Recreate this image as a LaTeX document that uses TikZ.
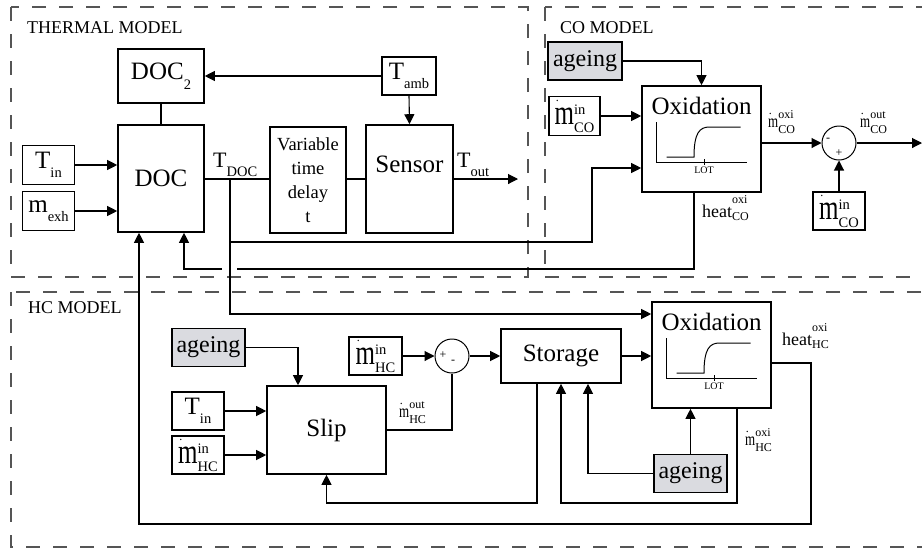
\documentclass[tikz,border=0pt]{standalone}
\usepackage{fontspec}
\setmainfont{Liberation Serif}
\usepackage{graphicx}
\usetikzlibrary{arrows.meta,calc}
\definecolor{agegray}{RGB}{218,219,224}
\definecolor{framegray}{RGB}{85,85,85}
\newcommand{\fsz}[1]{\fontsize{#1}{#1}\selectfont}
\newcommand{\lowsub}[1]{\raisebox{-9.5pt}{\fsz{14.5}#1}}
\newcommand{\mflow}{\rlap{\hspace{0.05em}\raisebox{0.95em}{\fsz{12}.}}\scalebox{1}[1.4]{m}}
\newcommand{\bigss}[2]{{\fsz{14.5}\rlap{\raisebox{0.7em}{#1}}\raisebox{-0.5em}{#2}}}
\newcommand{\smallss}[2]{{\fsz{12}\rlap{\raisebox{0.75em}{#1}}\raisebox{-0.5em}{#2}}}
\newcommand{\heatss}[2]{{\fsz{12}\rlap{\raisebox{1.1em}{#1}}\raisebox{-0.25em}{#2}}}
% small LOT characteristic inside an oxidation block
\newcommand{\lotplot}[1]{%
  \begin{scope}[shift={(#1.center)},line width=1pt]
    \draw (-45,-17) -- (-45,23) -- (45,23);
    \draw (-35,18) -- (-7.5,18) .. controls (-7.5,-6) and (-2,-12) .. (8,-12) -- (39,-12);
    \draw (2.5,20) -- (2.5,26);
    \node[font=\fsz{10},inner sep=0pt] (#1lot) at (2.5,31) {LOT};
  \end{scope}}

\begin{document}
\begin{tikzpicture}[x=1pt,y=-1pt,>={Triangle[length=10pt,width=10pt]},
    blk/.style={draw,line width=1.6pt,inner sep=0pt,font=\fsz{25}},
    agebox/.style={blk,fill=agegray,font=\fsz{24}},
    sumnode/.style={draw,circle,line width=1pt,minimum size=34pt,inner sep=0pt},
    lbl/.style={inner sep=0pt,anchor=base west},
    frame/.style={draw=framegray,line width=1.6pt,dash pattern=on 14pt off 13pt},
    wire/.style={line width=1.1pt}]
  \useasboundingbox (0,0) rectangle (922,550);
  \clip (0,0) rectangle (922,550);

  % model frames
  \draw[frame] (11,7) rectangle (528,277);
  \draw[frame] (545,7) rectangle (940,277);
  \draw[frame] (11,292) rectangle (940,547);
  \node[lbl,font=\fsz{18}] (thermlbl) at (27,33) {THERMAL MODEL};
  \node[lbl,font=\fsz{18}] (colbl) at (560,33) {CO MODEL};
  \node[lbl,font=\fsz{18}] (hclbl) at (28,313) {HC MODEL};

  % thermal model
  \node[blk,minimum width=86pt,minimum height=54pt] (doctwo) at (161,76) {DOC\lowsub{2}};
  \node[blk,minimum width=86pt,minimum height=107pt] (doc) at (161,178.5) {DOC};
  \node[blk,minimum width=52pt,minimum height=39pt] (tin) at (48.5,165) {T\lowsub{in}};
  \node[blk,minimum width=52pt,minimum height=39pt] (mexh) at (48.5,211) {m\lowsub{exh}};
  \node[blk,minimum width=54pt,minimum height=38pt] (tamb) at (409,76) {T\lowsub{amb}};
  \node[blk,minimum width=76pt,minimum height=106pt,align=center,
        font=\fontsize{18.5}{24}\selectfont] (delay) at (308,180) {Variable\\time\\delay\\t};
  \node[blk,minimum width=87pt,minimum height=108pt] (sensor) at (409.5,179) {};
  \node[font=\fsz{25},inner sep=0pt,anchor=base] (sensortxt) at ($(sensor.center)+(0,-7)$) {Sensor};
  \node[lbl] (tdoclbl) at (213,167) {\fsz{22}T\lowsub{DOC}};
  \node[lbl] (toutlbl) at (457,167) {\fsz{22}T\lowsub{out}};

  % CO model
  \node[agebox,minimum width=74pt,minimum height=38pt] (coage) at (585,61) {ageing};
  \node[blk,minimum width=51pt,minimum height=39pt] (comin) at (574.5,116) {\mflow\bigss{in}{CO}};
  \node[blk,minimum width=119pt,minimum height=106pt] (cox) at (701.5,139) {};
  \node[font=\fsz{25},inner sep=0pt,anchor=base] (coxtxt) at ($(cox.center)+(0,-25)$) {Oxidation};
  \lotplot{cox}
  \node[sumnode] (cosum) at (839,143) {};
  \node[font=\fsz{12},inner sep=0pt] (cominus) at (828,140) {-};
  \node[font=\fsz{12},inner sep=0pt] (coplus) at (839,153) {+};
  \node[blk,minimum width=52pt,minimum height=38pt] (comintwo) at (839,211) {\mflow\bigss{in}{CO}};
  \node[lbl] (cooxilbl) at (768,127) {\fsz{13}\mflow\smallss{oxi}{CO}};
  \node[lbl] (cooutlbl) at (860,127) {\fsz{13}\mflow\smallss{out}{CO}};
  \node[lbl] (coheatlbl) at (702,217) {\fsz{18}heat\heatss{oxi}{CO}};

  % HC model
  \node[agebox,minimum width=73pt,minimum height=38pt] (hageone) at (208.5,347.5) {ageing};
  \node[blk,minimum width=53pt,minimum height=38pt] (hminone) at (375.5,356) {\mflow\bigss{in}{HC}};
  \node[sumnode] (hsum) at (452,356) {};
  \node[font=\fsz{12},inner sep=0pt] (hplus) at (443,355) {+};
  \node[font=\fsz{12},inner sep=0pt] (hminus) at (453,362) {-};
  \node[blk,minimum width=120pt,minimum height=54pt] (store) at (561,356) {Storage};
  \node[blk,minimum width=119pt,minimum height=106pt] (hox) at (711.5,355) {};
  \node[font=\fsz{25},inner sep=0pt,anchor=base] (hoxtxt) at ($(hox.center)+(0,-25)$) {Oxidation};
  \lotplot{hox}
  \node[blk,minimum width=52pt,minimum height=38pt] (htin) at (198,411) {T\lowsub{in}};
  \node[blk,minimum width=52pt,minimum height=38pt] (hmintwo) at (198,455) {\mflow\bigss{in}{HC}};
  \node[blk,minimum width=119pt,minimum height=88pt] (slip) at (326.5,430) {Slip};
  \node[agebox,minimum width=73pt,minimum height=38pt] (hagetwo) at (690.5,473.5) {ageing};
  \node[lbl] (hcoutlbl) at (399,417) {\fsz{13}\mflow\smallss{out}{HC}};
  \node[lbl] (hcoxilbl) at (745,445) {\fsz{13}\mflow\smallss{oxi}{HC}};
  \node[lbl] (hcheatlbl) at (782,345) {\fsz{18}heat\heatss{oxi}{HC}};

  % helper points of the wires
  \coordinate (tdoc) at (230,179);
  \coordinate (toutend) at (518,179);
  \coordinate (cofeed) at (592,242);
  \coordinate (cofeedup) at (592,168);
  \coordinate (coheat) at (694,269);
  \coordinate (docintwo) at (184,269);
  \coordinate (hcfeed) at (230,314);
  \coordinate (hcheatr) at (811,363);
  \coordinate (hcheatb) at (811,524);
  \coordinate (docinone) at (139,524);
  \coordinate (coout) at (922,143);
  \coordinate (stloop) at (537,503);
  \coordinate (hoxloop) at (737,503);

  % thermal wires
  \draw[wire,->] (tamb.west) -- (doctwo.east);
  \draw[wire,->] (tamb.south) -- (sensor.north);
  \draw[wire] (doctwo.south) -- (doc.north);
  \draw[wire,->] (tin.east) -- (tin.east -| doc.west);
  \draw[wire,->] (mexh.east) -- (mexh.east -| doc.west);
  \draw[wire] (doc.east |- tdoc) -- (delay.west |- tdoc);
  \draw[wire] (delay.east |- tdoc) -- (sensor.west |- tdoc);
  \draw[wire,->] (sensor.east |- toutend) -- (toutend);

  % feedback of the CO heat, with a hop over the T_DOC line
  \draw[wire,->] (cox.south -| coheat) -- (coheat) -- (docintwo) -- (docintwo |- doc.south);
  \fill[white] (222,264) rectangle (237,274);
  \draw[wire,->] (tdoc) -- (hcfeed) -- (hcfeed -| hox.west);
  \draw[wire,->] (tdoc |- cofeed) -- (cofeed) -- (cofeedup) -- (cofeedup -| cox.west);
  \draw[wire,->] (hox.east |- hcheatr) -- (hcheatr) -- (hcheatb) -- (docinone) -- (docinone |- doc.south);

  % CO wires
  \draw[wire,->] (coage.east) -| (cox.north);
  \draw[wire,->] (comin.east) -- (comin.east -| cox.west);
  \draw[wire,->] (cox.east |- cosum) -- (cosum.west);
  \draw[wire,->] (cosum.east) -- (coout);
  \draw[wire,->] (comintwo.north) -- (cosum.south);

  % HC wires
  \draw[wire,->] (hageone.east) -| ($(slip.north)+(-28.5,0)$);
  \draw[wire,->] (htin.east) -- (htin.east -| slip.west);
  \draw[wire,->] (hmintwo.east) -- (hmintwo.east -| slip.west);
  \draw[wire] (slip.east) -| (hsum.south);
  \draw[wire,->] (hminone.east) -- (hsum.west);
  \draw[wire,->] (hsum.east) -- (store.west);
  \draw[wire,->] (store.east) -- (store.east -| hox.west);
  \draw[wire,->] (store.south -| stloop) -- (stloop) -| (slip.south);
  \draw[wire,->] (hagetwo.west) -| ($(store.south)+(27,0)$);
  \draw[wire,->] (hagetwo.north) -- (hagetwo.north |- hox.south);
  \draw[wire,->] (hox.south -| hoxloop) -- (hoxloop) -| (store.south);
\end{tikzpicture}
\end{document}
